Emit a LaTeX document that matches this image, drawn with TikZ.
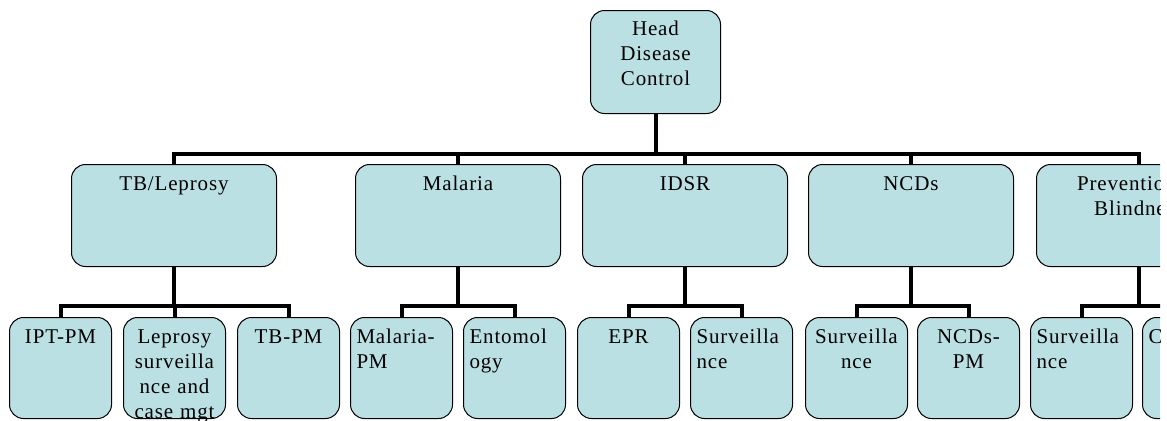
\documentclass[tikz,border=0pt]{standalone}
\usepackage{fontspec}
\setmainfont{Liberation Serif}[LetterSpace=4]
\usepackage{tikz}
\usetikzlibrary{positioning}
\definecolor{boxblue}{RGB}{187,224,227}

\begin{document}
\begin{tikzpicture}
  [
    x=0.5pt, y=-0.5pt,
    Box/.style={draw=black, fill=boxblue, line width=0.5pt, rounded corners=7pt, anchor=north west, inner xsep=3pt, inner ysep=0pt, text height=13pt, font=\fontsize{10.5}{12.5}\selectfont},
    Head/.style={Box, text width=59pt, text height=12.5pt, text depth=39pt, align=center},
    Unit/.style={Box, text width=96.5pt, text depth=38pt, align=center},
    Sub/.style={Box, text width=45pt, text depth=37.5pt, align=center},
    SubL/.style={Sub, align=flush left},
    Link/.style={draw, line width=2pt}
  ]
  \useasboundingbox (0,0) rectangle (1167,420);
  \clip (0,0) rectangle (1160,420);

  % Nodes
  \node[Head] (head) at(590, 10) {Head\\Disease\\Control};

  \node[Unit] (tb) at(71, 164) {TB/Leprosy};
  \node[Unit] (mal) at(355, 164) {Malaria};
  \node[Unit] (idsr) at(582, 164) {IDSR};
  \node[Unit] (ncd) at(808, 164) {NCDs};
  \node[Unit] (pob) at(1036, 164) {Prevention of\\Blindness};

  \node[Sub] (ipt) at(9, 317) {IPT-PM};
  \node[Sub] (lep) at(123, 317) {Leprosy\\surveilla\\nce and\\case mgt};
  \node[Sub] (tbpm) at(237, 317) {TB-PM};
  \node[SubL] (malpm) at(350, 317) {Malaria-\\PM};
  \node[SubL] (ento) at(463, 317) {Entomol\\ogy};
  \node[Sub] (epr) at(577, 317) {EPR};
  \node[SubL] (survi) at(690, 317) {Surveilla\\nce};
  \node[Sub] (survn) at(805, 317) {Surveilla\\nce};
  \node[Sub] (ncdpm) at(917, 317) {NCDs-\\PM};
  \node[SubL] (survp) at(1030, 317) {Surveilla\\nce};
  \node[SubL] (pobc) at(1142, 317) {C};

  % Lines
  \path [Link] (head.south) -- ++(0,39.5) -| (tb.north);
  \path [Link] (head.south) -- ++(0,39.5) -| (mal.north);
  \path [Link] (head.south) -- ++(0,39.5) -| (idsr.north);
  \path [Link] (head.south) -- ++(0,39.5) -| (ncd.north);
  \path [Link] (head.south) -- ++(0,39.5) -| (pob.north);

  \path [Link] (tb.south) -- ++(0,39) -| (ipt.north);
  \path [Link] (tb.south) -- ++(0,39) -| (lep.north);
  \path [Link] (tb.south) -- ++(0,39) -| (tbpm.north);
  \path [Link] (mal.south) -- ++(0,39) -| (malpm.north);
  \path [Link] (mal.south) -- ++(0,39) -| (ento.north);
  \path [Link] (idsr.south) -- ++(0,39) -| (epr.north);
  \path [Link] (idsr.south) -- ++(0,39) -| (survi.north);
  \path [Link] (ncd.south) -- ++(0,39) -| (survn.north);
  \path [Link] (ncd.south) -- ++(0,39) -| (ncdpm.north);
  \path [Link] (pob.south) -- ++(0,39) -| (survp.north);
  \path [Link] (pob.south) -- ++(0,39) -| (pobc.north);

\end{tikzpicture}
\end{document}
